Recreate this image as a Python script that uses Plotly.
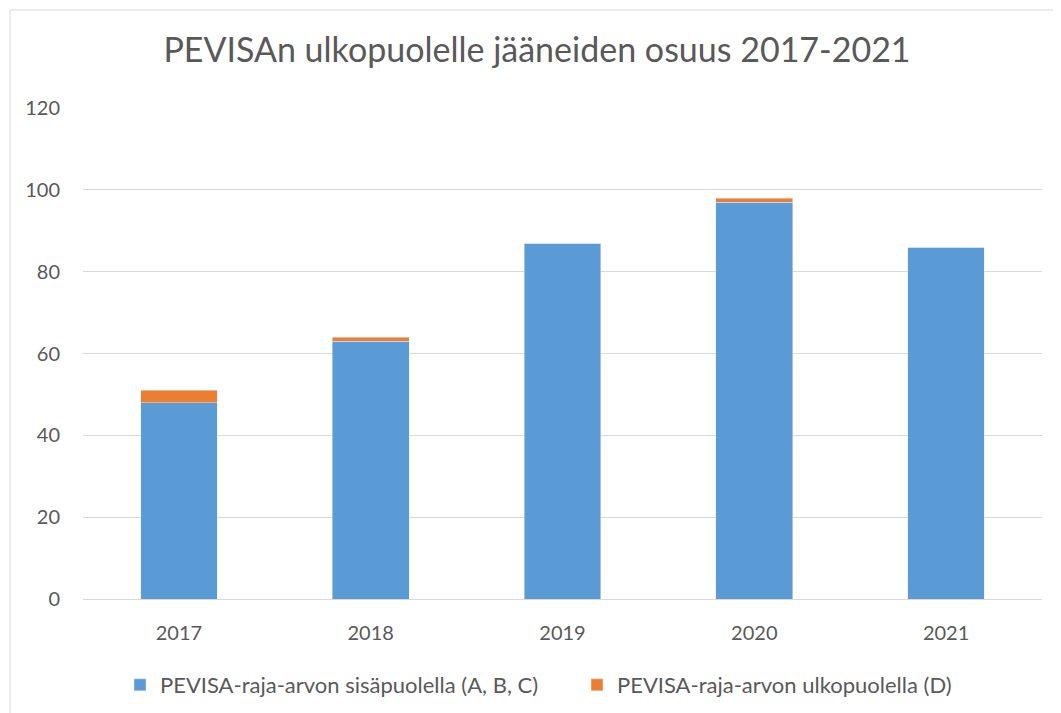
import plotly.graph_objects as go

years = ["2017", "2018", "2019", "2020", "2021"]
inside = [48, 63, 87, 97, 86]
outside = [3, 1, 0, 1, 0]
name_inside = "PEVISA-raja-arvon sisäpuolella (A, B, C)"
name_outside = "PEVISA-raja-arvon ulkopuolella (D)"
title = "PEVISAn ulkopuolelle jääneiden osuus 2017-2021"
yticks = [0, 20, 40, 60, 80, 100, 120]

font = "Lato, 'Open Sans', sans-serif"
grey = "#595959"

# page has an 8px body margin; figure is sized/positioned to compensate
W, H = 1053, 705
L, R, T, B = 75, 19, 100, 114
pw, ph = W - L - R, H - T - B

fig = go.Figure()
fig.add_trace(go.Bar(x=years, y=inside, name=name_inside, marker_color="#5b9bd5"))
fig.add_trace(go.Bar(x=years, y=outside, name=name_outside, marker_color="#ed7d31"))

fig.update_layout(
    barmode="stack",
    bargap=0.6,
    width=W, height=H,
    margin=dict(l=L, r=R, t=T, b=B),
    paper_bgcolor="white", plot_bgcolor="white",
    font=dict(family=font, color=grey, size=20),
    title=dict(text=title, x=(537 - 8) / W, xanchor="center", y=1 - 42 / H, yanchor="middle",
               font=dict(size=34, color=grey, family=font)),
    legend=dict(orientation="h", xref="container", yref="container",
                x=(120 - 8) / W, xanchor="left", y=(H - (685 - 8)) / H,
                yanchor="middle", traceorder="normal", entrywidth=412,
                font=dict(size=22, color=grey), itemwidth=30),
    showlegend=True,
)
fig.update_yaxes(range=[0, 120], tickvals=yticks, showgrid=True, gridcolor="#d9d9d9",
                 gridwidth=1, zeroline=False, showline=False, ticks="",
                 ticklabelstandoff=22, tickfont=dict(size=20, color=grey))
fig.update_xaxes(showline=True, linecolor="#d9d9d9", linewidth=1, ticks="",
                 ticklabelstandoff=16, tickfont=dict(size=20, color=grey))

fig.add_shape(type="rect", xref="paper", yref="paper",
              x0=(2 - L) / pw, x1=1.2, y0=-0.4, y1=(ph + T - 2) / ph,
              line=dict(color="#d9d9d9", width=1), fillcolor="rgba(0,0,0,0)", layer="below")

fig.write_html("out.html")
